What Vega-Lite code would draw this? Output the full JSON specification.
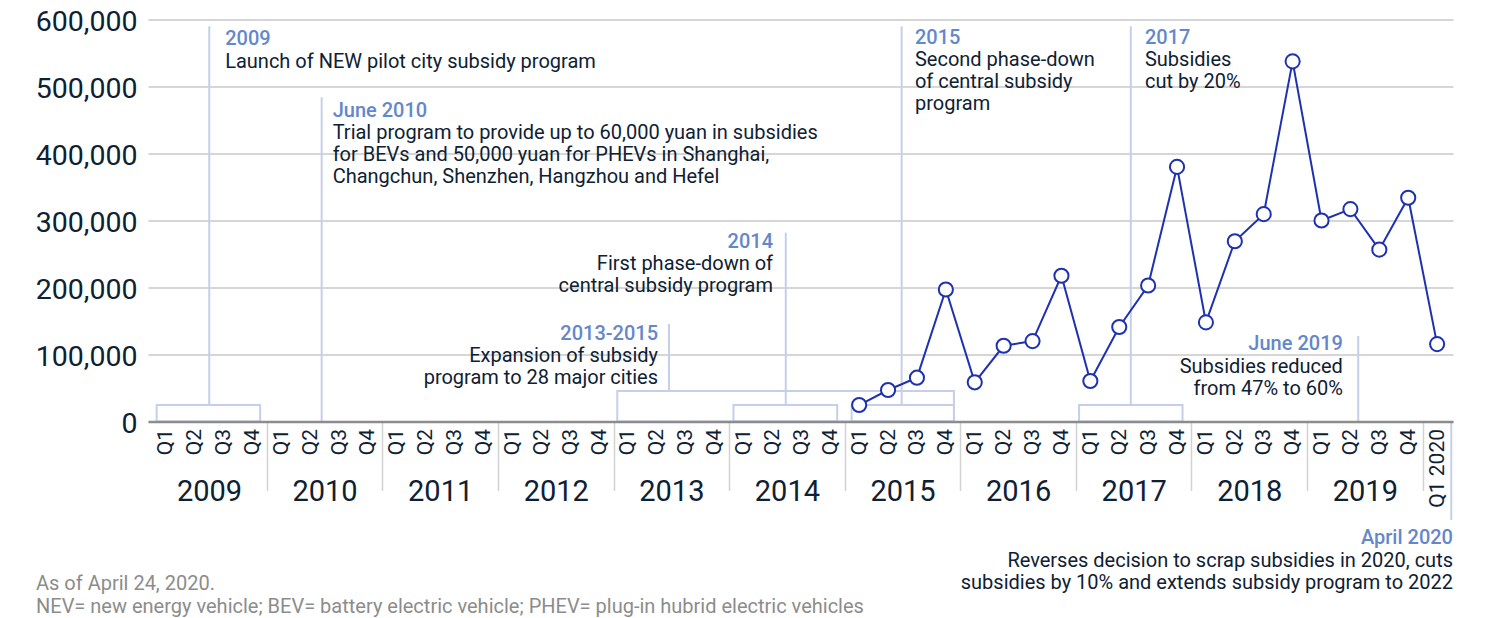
{
  "$schema": "https://vega.github.io/schema/vega-lite/v6.json",
  "width": 1305,
  "height": 402,
  "autosize": {"type": "none"},
  "padding": {"left": 148, "top": 19.5, "right": 33, "bottom": 196.5},
  "background": "white",
  "config": {"view": {"stroke": null}, "font": "Roboto"},
  "title": {
    "text": ["As of April 24, 2020.", "NEV= new energy vehicle; BEV= battery electric vehicle; PHEV= plug-in hubrid electric vehicles"],
    "orient": "bottom",
    "anchor": "start",
    "frame": "group",
    "dx": -112,
    "offset": -19,
    "baseline": "top",
    "font": "Roboto",
    "fontSize": 20,
    "fontWeight": "normal",
    "color": "#8c8c8c",
    "lineHeight": 23
  },
  "datasets": {
    "sales": [
      {"quarter": "2015 Q1", "idx": 24, "sales": 24600},
      {"quarter": "2015 Q2", "idx": 25, "sales": 47000},
      {"quarter": "2015 Q3", "idx": 26, "sales": 65400},
      {"quarter": "2015 Q4", "idx": 27, "sales": 197000},
      {"quarter": "2016 Q1", "idx": 28, "sales": 58500},
      {"quarter": "2016 Q2", "idx": 29, "sales": 113000},
      {"quarter": "2016 Q3", "idx": 30, "sales": 120000},
      {"quarter": "2016 Q4", "idx": 31, "sales": 217500},
      {"quarter": "2017 Q1", "idx": 32, "sales": 60400},
      {"quarter": "2017 Q2", "idx": 33, "sales": 141000},
      {"quarter": "2017 Q3", "idx": 34, "sales": 203000},
      {"quarter": "2017 Q4", "idx": 35, "sales": 380000},
      {"quarter": "2018 Q1", "idx": 36, "sales": 148000},
      {"quarter": "2018 Q2", "idx": 37, "sales": 269000},
      {"quarter": "2018 Q3", "idx": 38, "sales": 309500},
      {"quarter": "2018 Q4", "idx": 39, "sales": 537500},
      {"quarter": "2019 Q1", "idx": 40, "sales": 300000},
      {"quarter": "2019 Q2", "idx": 41, "sales": 317000},
      {"quarter": "2019 Q3", "idx": 42, "sales": 256500},
      {"quarter": "2019 Q4", "idx": 43, "sales": 334000},
      {"quarter": "2020 Q1", "idx": 44, "sales": 115500}
    ],
    "events": [
      {"event": "2009", "side": "left", "lineX": 1.51, "lineTop": 590000, "lineBottom": 24600, "textX": 2.06, "textY": 571900, "title": "2009", "body": ["Launch of NEW pilot city subsidy program"]},
      {"event": "June 2010", "side": "left", "lineX": 5.4, "lineTop": 484000, "lineBottom": 0, "textX": 5.78, "textY": 464900, "title": "June 2010", "body": ["Trial program to provide up to 60,000 yuan in subsidies", "for BEVs and 50,000 yuan for PHEVs in Shanghai,", "Changchun, Shenzhen, Hangzhou and Hefel"]},
      {"event": "2013-2015", "side": "right", "lineX": 17.42, "lineTop": 145500, "lineBottom": 45500, "textX": 17.04, "textY": 132500, "title": "2013-2015", "body": ["Expansion of subsidy", "program to 28 major cities"]},
      {"event": "2014", "side": "right", "lineX": 21.46, "lineTop": 281800, "lineBottom": 24600, "textX": 21.02, "textY": 269800, "title": "2014", "body": ["First phase-down of", "central subsidy program"]},
      {"event": "2015", "side": "left", "lineX": 25.47, "lineTop": 590000, "lineBottom": 24600, "textX": 25.93, "textY": 574300, "title": "2015", "body": ["Second phase-down", "of central subsidy", "program"]},
      {"event": "2017", "side": "left", "lineX": 33.4, "lineTop": 590000, "lineBottom": 24600, "textX": 33.89, "textY": 574300, "title": "2017", "body": ["Subsidies", "cut by 20%"]},
      {"event": "June 2019", "side": "right", "lineX": 41.27, "lineTop": 127600, "lineBottom": 0, "textX": 40.74, "textY": 116700, "title": "June 2019", "body": ["Subsidies reduced", "from 47% to 60%"]},
      {"event": "April 2020", "side": "right", "lineX": 44.49, "lineTop": 0, "lineBottom": -147000, "textX": 44.55, "textY": -172800, "title": "April 2020", "body": ["Reverses decision to scrap subsidies in 2020, cuts", "subsidies by 10% and extends subsidy program to 2022"]}
    ],
    "brackets": [
      {"span": "2009", "x1": -0.31, "x2": 3.27, "top": 24600, "bottom": 0},
      {"span": "2013-2015", "x1": 15.63, "x2": 27.28, "top": 45500, "bottom": 0},
      {"span": "2014", "x1": 19.65, "x2": 23.24, "top": 24600, "bottom": 0},
      {"span": "2015", "x1": 23.74, "x2": 27.28, "top": 24600, "bottom": 0},
      {"span": "2017", "x1": 31.61, "x2": 35.19, "top": 24600, "bottom": 0}
    ]
  },
  "resolve": {"axis": {"x": "independent"}},
  "layer": [
    {
      "data": {"name": "brackets"},
      "mark": {"type": "rect", "fill": "transparent", "stroke": "#c5cfe9", "strokeWidth": 2},
      "encoding": {
        "x": {"field": "x1", "type": "quantitative", "scale": {"domain": [-0.61, 44.55], "nice": false, "zero": false},
          "axis": {"orient": "bottom", "values": [3.5, 7.5, 11.5, 15.5, 19.5, 23.5, 27.5, 31.5, 35.5, 39.5, 43.5], "labels": false, "domain": false, "grid": false, "ticks": true, "tickSize": 69, "tickColor": "#d2d2d2", "tickWidth": 1.5, "title": null}},
        "x2": {"field": "x2"},
        "y": {"field": "top", "type": "quantitative", "scale": {"domain": [0, 600000], "nice": false, "zero": false},
          "axis": {"values": [0, 100000, 200000, 300000, 400000, 500000, 600000], "labelExpr": "format(datum.value, ',')", "grid": true, "gridColor": "#c8c8c8", "gridWidth": 1.5, "domain": false, "ticks": false, "labelFontSize": 28.5, "labelFont": "Roboto", "labelColor": "#0e2133", "labelPadding": 11, "labelOffset": 1.5, "title": null}},
        "y2": {"field": "bottom"}
      }
    },
    {
      "data": {"name": "events"},
      "mark": {"type": "rule", "stroke": "#c5cfe9", "strokeWidth": 2},
      "encoding": {
        "x": {"field": "lineX", "type": "quantitative", "scale": {"domain": [-0.61, 44.55], "nice": false, "zero": false},
          "axis": {"orient": "bottom", "values": [1.5, 5.5, 9.5, 13.5, 17.5, 21.5, 25.5, 29.5, 33.5, 37.5, 41.5], "labelExpr": "'' + (2009 + floor(datum.value / 4))", "ticks": false, "domain": false, "grid": false, "labelFontSize": 29, "labelFont": "Roboto", "labelColor": "#0e2133", "labelPadding": 56, "labelBaseline": "top", "labelFlush": false, "labelOverlap": false, "title": null}},
        "y": {"field": "lineTop", "type": "quantitative", "scale": {"domain": [0, 600000], "nice": false, "zero": false}},
        "y2": {"field": "lineBottom"}
      }
    },
    {
      "data": {"name": "sales"},
      "mark": {"type": "line", "stroke": "#1e31b0", "strokeWidth": 2},
      "encoding": {
        "x": {"field": "idx", "type": "quantitative", "scale": {"domain": [-0.61, 44.55], "nice": false, "zero": false},
          "axis": {"orient": "bottom", "values": [0,1,2,3,4,5,6,7,8,9,10,11,12,13,14,15,16,17,18,19,20,21,22,23,24,25,26,27,28,29,30,31,32,33,34,35,36,37,38,39,40,41,42,43,44], "labelExpr": "datum.value == 44 ? 'Q1 2020' : 'Q' + (datum.value % 4 + 1)", "labelAngle": 270, "labelAlign": "right", "labelBaseline": "middle", "labelPadding": 7, "labelFontSize": 21, "labelFont": "Roboto", "labelColor": "#0e2133", "ticks": false, "domain": true, "domainColor": "#8c8c8c", "domainWidth": 2.5, "grid": false, "labelFlush": false, "labelOverlap": false, "title": null, "zindex": 1}},
        "y": {"field": "sales", "type": "quantitative", "scale": {"domain": [0, 600000], "nice": false, "zero": false}}
      }
    },
    {
      "data": {"name": "sales"},
      "mark": {"type": "point", "shape": "circle", "filled": false, "fill": "white", "fillOpacity": 1, "stroke": "#1e31b0", "strokeWidth": 2, "size": 200, "opacity": 1},
      "encoding": {
        "x": {"field": "idx", "type": "quantitative", "scale": {"domain": [-0.61, 44.55], "nice": false, "zero": false}, "axis": null},
        "y": {"field": "sales", "type": "quantitative", "scale": {"domain": [0, 600000], "nice": false, "zero": false}}
      }
    },
    {
      "data": {"name": "events"},
      "transform": [{"filter": "datum.side == 'left'"}],
      "mark": {"type": "text", "align": "left", "baseline": "middle", "dy": 1, "font": "Roboto", "fontSize": 20, "fontWeight": 500, "color": "#6487cc"},
      "encoding": {
        "x": {"field": "textX", "type": "quantitative", "scale": {"domain": [-0.61, 44.55], "nice": false, "zero": false}, "axis": null},
        "y": {"field": "textY", "type": "quantitative", "scale": {"domain": [0, 600000], "nice": false, "zero": false}},
        "text": {"field": "title"}
      }
    },
    {
      "data": {"name": "events"},
      "transform": [{"filter": "datum.side == 'right'"}],
      "mark": {"type": "text", "align": "right", "baseline": "middle", "dy": 1, "font": "Roboto", "fontSize": 20, "fontWeight": 500, "color": "#6487cc"},
      "encoding": {
        "x": {"field": "textX", "type": "quantitative", "scale": {"domain": [-0.61, 44.55], "nice": false, "zero": false}, "axis": null},
        "y": {"field": "textY", "type": "quantitative", "scale": {"domain": [0, 600000], "nice": false, "zero": false}},
        "text": {"field": "title"}
      }
    },
    {
      "data": {"name": "events"},
      "transform": [{"filter": "datum.side == 'left'"}],
      "mark": {"type": "text", "align": "left", "baseline": "top", "dy": 13.3, "lineHeight": 22, "font": "Roboto", "fontSize": 20, "color": "#0e2133"},
      "encoding": {
        "x": {"field": "textX", "type": "quantitative", "scale": {"domain": [-0.61, 44.55], "nice": false, "zero": false}, "axis": null},
        "y": {"field": "textY", "type": "quantitative", "scale": {"domain": [0, 600000], "nice": false, "zero": false}},
        "text": {"field": "body"}
      }
    },
    {
      "data": {"name": "events"},
      "transform": [{"filter": "datum.side == 'right'"}],
      "mark": {"type": "text", "align": "right", "baseline": "top", "dy": 13.3, "lineHeight": 22, "font": "Roboto", "fontSize": 20, "color": "#0e2133"},
      "encoding": {
        "x": {"field": "textX", "type": "quantitative", "scale": {"domain": [-0.61, 44.55], "nice": false, "zero": false}, "axis": null},
        "y": {"field": "textY", "type": "quantitative", "scale": {"domain": [0, 600000], "nice": false, "zero": false}},
        "text": {"field": "body"}
      }
    }
  ]
}
